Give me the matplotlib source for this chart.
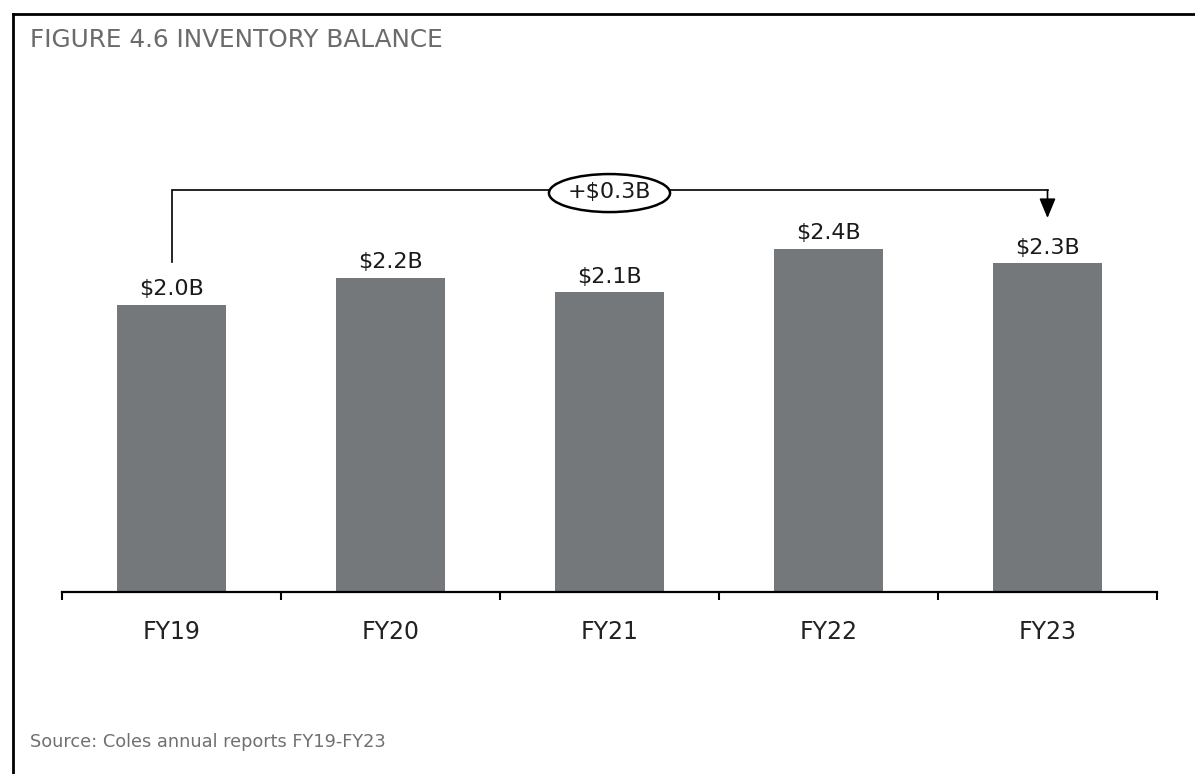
import matplotlib.pyplot as plt
from matplotlib.patches import Ellipse
from matplotlib.lines import Line2D

# inventory balance, $B
years = ["FY19", "FY20", "FY21", "FY22", "FY23"]
inventory = [2.0, 2.19, 2.09, 2.39, 2.29]
bar_labels = ["$2.0B", "$2.2B", "$2.1B", "$2.4B", "$2.3B"]
change_label = "+$0.3B"

title = "FIGURE 4.6 INVENTORY BALANCE"
source = "Source: Coles annual reports FY19-FY23"

W, H = 1195, 774
fig = plt.figure(figsize=(W / 100, H / 100), dpi=100)
fig.patch.set_facecolor("white")

ax = fig.add_axes([62 / W, (H - 592) / H, 1095 / W, 430.5 / H])
pos = list(range(len(years)))
ax.bar(pos, inventory, width=0.5, color="#75787b", zorder=2)
ax.set_xlim(-0.5, len(years) - 0.5)
ax.set_ylim(0, 3.0)

for s in ["top", "right", "left"]:
    ax.spines[s].set_visible(False)
ax.spines["bottom"].set_linewidth(1.6)
ax.spines["bottom"].set_color("black")
ax.set_yticks([])

ax.set_xticks(pos)
ax.set_xticklabels(years, fontsize=17, color="#222222")
ax.set_xticks([p - 0.5 for p in range(len(years) + 1)], minor=True)
ax.tick_params(axis="x", which="major", length=0, pad=20)
ax.tick_params(axis="x", which="minor", length=5.5, width=1.5, direction="out", color="black")

for p, v, lab in zip(pos, inventory, bar_labels):
    ax.annotate(lab, (p, v), xytext=(0, 4), textcoords="offset points",
                ha="center", va="bottom", fontsize=16, color="#1a1a1a")

# bracket showing change FY19 -> FY23
level = max(inventory) + 0.41
start = inventory[0] + 0.30
tip = inventory[-1] + 0.316
ax.plot([pos[0], pos[0], pos[-1]], [start, level, level], color="black", lw=1.2,
        solid_joinstyle="miter", zorder=3)
ax.annotate("", xy=(pos[-1], tip), xytext=(pos[-1], level),
            arrowprops=dict(arrowstyle="-|>,head_length=0.6,head_width=0.25",
                            color="black", lw=1.2, mutation_scale=20,
                            shrinkA=0, shrinkB=0), zorder=3)
mid = (pos[0] + pos[-1]) / 2
ax.add_patch(Ellipse((mid, level - 0.02), 0.553, 0.265, facecolor="white",
                     edgecolor="black", lw=1.8, zorder=4))
ax.text(mid, level - 0.01, change_label, ha="center", va="center", fontsize=16,
        color="#1a1a1a", zorder=5)

# frame (top and left edges only)
fig.add_artist(Line2D([13 / W, 13 / W], [0, 1 - 14 / H], transform=fig.transFigure,
                      color="black", lw=2))
fig.add_artist(Line2D([13 / W, 1], [1 - 14 / H, 1 - 14 / H], transform=fig.transFigure,
                      color="black", lw=2))

fig.text(30 / W, 1 - 47 / H, title, fontsize=17.8, color="#6b6b6b", va="baseline")
fig.text(30 / W, (H - 747) / H, source, fontsize=12.8, color="#707070", va="baseline")

fig.savefig("out.png", dpi=100)
